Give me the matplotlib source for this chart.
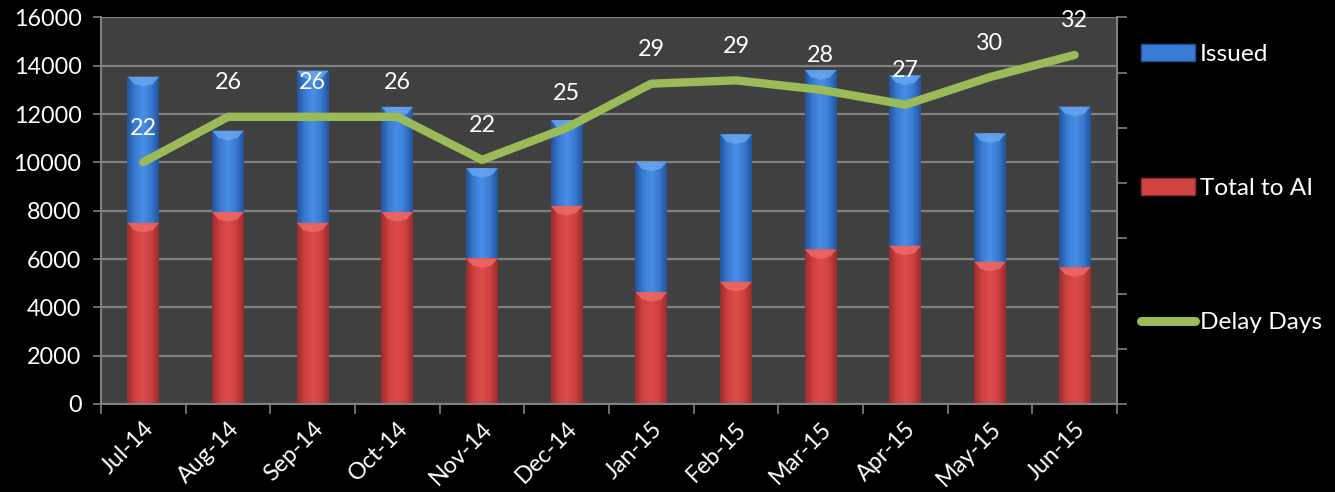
import numpy as np
import matplotlib
matplotlib.use("Agg")
import matplotlib.pyplot as plt
from matplotlib.colors import LinearSegmentedColormap
from matplotlib.patches import Polygon, Patch
from matplotlib.lines import Line2D

# ---- data ----
months = ["Jul-14", "Aug-14", "Sep-14", "Oct-14", "Nov-14", "Dec-14",
          "Jan-15", "Feb-15", "Mar-15", "Apr-15", "May-15", "Jun-15"]
total_to_ai = [7500, 7950, 7500, 7950, 6030, 8200, 4630, 5060, 6400, 6550, 5890, 5660]
issued = [6050, 3360, 6300, 4350, 3730, 3550, 5400, 6100, 7420, 7050, 5310, 6650]
delay_days = [21.9, 26.0, 26.0, 26.0, 22.1, 25.0, 29.0, 29.3, 28.45, 27.1, 29.6, 31.6]
left_ticks = [0, 2000, 4000, 6000, 8000, 10000, 12000, 14000, 16000]
right_ticks = [0, 5, 10, 15, 20, 25, 30, 35]

FONT = ["Lato", "DejaVu Sans"]
plt.rcParams["font.family"] = FONT
FS = 16.8
FS_LEG = 17.6
GRID = "#808080"
BG = "#404040"

fig = plt.figure(figsize=(13.35, 4.92), dpi=100, facecolor="black")
ax = fig.add_axes([101 / 1335, 1 - 404 / 492, (1117 - 101) / 1335, (404 - 17.4) / 492])
ax.set_facecolor(BG)
ax.set_axisbelow(True)

x = np.arange(len(months))
w = 0.375

blue_cm = LinearSegmentedColormap.from_list("b", ["#23539a", "#3a7bd3", "#4a8ee6", "#3a7bd3", "#23539a"])
red_cm = LinearSegmentedColormap.from_list("r", ["#9a2c2c", "#cf4141", "#de4b4b", "#cf4141", "#9a2c2c"])
grad = np.linspace(0, 1, 128).reshape(1, -1)

bars_red = ax.bar(x, total_to_ai, width=w, color="#d04343", zorder=2, linewidth=0)
bars_blue = ax.bar(x, issued, width=w, bottom=total_to_ai, color="#3a7bd3", zorder=2, linewidth=0)

bevel_h = 400  # data units for the bevel highlight
for bars, cm, light in ((bars_red, red_cm, "#ef6b6b"), (bars_blue, blue_cm, "#6aa8f2")):
    for b in bars:
        x0, y0 = b.get_x(), b.get_y()
        bw, bh = b.get_width(), b.get_height()
        im = ax.imshow(grad, extent=[x0, x0 + bw, y0, y0 + bh], aspect="auto",
                       cmap=cm, zorder=2.1, interpolation="bicubic")
        im.set_clip_path(b)
        top = y0 + bh
        poly = Polygon([[x0, top], [x0 + bw, top], [x0 + bw * 0.8, top - bevel_h * 0.75],
                        [x0 + bw / 2, top - bevel_h * 1.0], [x0 + bw * 0.2, top - bevel_h * 0.75]],
                       closed=True, facecolor=light, edgecolor="none", zorder=2.2, alpha=0.8)
        ax.add_patch(poly)

ax.set_xlim(-0.5, len(months) - 0.5)
ax.set_ylim(0, 16000)
ax.set_yticks(left_ticks)
ax.set_yticklabels([str(t) for t in left_ticks], fontsize=FS, color="white")
ax.yaxis.grid(True, color=GRID, linewidth=1.6)
ax.tick_params(axis="y", direction="out", length=6, width=1.2, color=GRID, pad=8)

ax.set_xticks(np.arange(-0.5, len(months), 1.0))
ax.set_xticklabels([])
ax.set_xticks(x, minor=True)
ax.set_xticklabels(months, minor=True, rotation=45, ha="right", va="top",
                   rotation_mode="anchor", fontsize=FS, color="white")
ax.tick_params(axis="x", which="major", direction="out", length=7, width=1.2, color=GRID)
ax.tick_params(axis="x", which="minor", length=0, pad=10)

for side in ("top", "right"):
    ax.spines[side].set_visible(False)
for side in ("left", "bottom"):
    ax.spines[side].set_color(GRID)
    ax.spines[side].set_linewidth(1.5)

ax2 = ax.twinx()
ax2.set_ylim(0, 35)
ax2.set_yticks(right_ticks)
ax2.set_yticklabels([])
ax2.tick_params(axis="y", direction="out", length=7, width=1.2, color=GRID)
for side in ("top", "left", "bottom"):
    ax2.spines[side].set_visible(False)
ax2.spines["right"].set_color(GRID)
ax2.spines["right"].set_linewidth(1.5)

ax2.plot(x, delay_days, color="#9bbb59", linewidth=6, solid_capstyle="round",
         solid_joinstyle="round", zorder=3)
for xi, v in zip(x, delay_days):
    ax2.annotate(f"{v:.0f}", (xi, v), xytext=(0, 24.5), textcoords="offset points",
                 ha="center", va="center", fontsize=FS, color="white", zorder=4)

handles = [Patch(facecolor="#3a7bd3", edgecolor="#23539a"),
           Patch(facecolor="#d04343", edgecolor="#9a2c2c"),
           Line2D([], [], color="#9bbb59", linewidth=6.5, solid_capstyle="round")]
leg = fig.legend(handles, ["Issued", "Total to AI", "Delay Days"], loc="upper left",
                 bbox_to_anchor=(1141 / 1335, 1 - 44 / 492), frameon=False,
                 fontsize=FS_LEG, labelcolor="white", handlelength=2.2, handleheight=0.7,
                 handletextpad=0.2, labelspacing=4.62, borderaxespad=0, borderpad=0)

fig.savefig("out.png", dpi=100, facecolor="black")
